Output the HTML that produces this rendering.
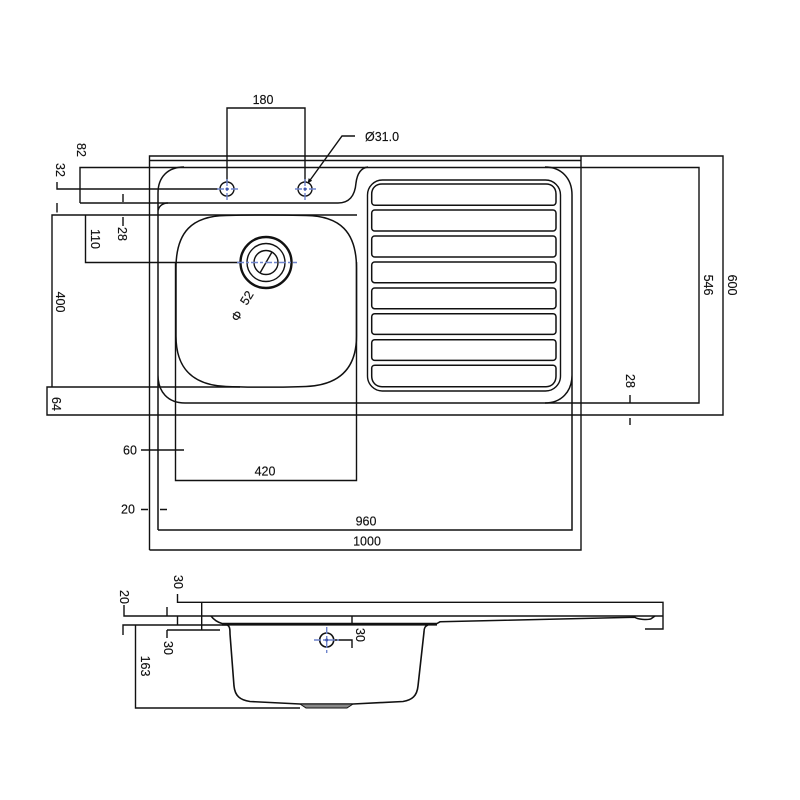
<!DOCTYPE html>
<html><head><meta charset="utf-8"><style>
html,body{margin:0;padding:0;background:#fff;width:800px;height:800px;overflow:hidden}
svg{display:block;filter:blur(.35px)}
text{font-family:"Liberation Sans",sans-serif;font-size:12.5px;fill:#111;stroke:#111;stroke-width:.15;text-anchor:middle;dominant-baseline:central}
</style></head><body>
<svg width="800" height="800" viewBox="0 0 800 800" xmlns="http://www.w3.org/2000/svg">
<rect width="800" height="800" fill="#fff"/>
<g fill="none" stroke="#111" stroke-width="1.4">
<!-- outer -->
<path d="M149.500 550V156H723V415H47V387H240M149.500 550H581V156M149.500 160.500H581"/>
<path d="M80 203V167.500H699V403H545M80 203H338"/>
<!-- outline -->
<path d="M158 530V193C158 177 168 167 184 167M338 203C350 203 355 195 356 183C357 175 360 168 368 167M545 167C561 167 572 178 572 195V530H158M158 212C158 207 162 203 168 203M158 375C158 392 168 403 185 403H545C561 403 572 392 572 375" stroke-width="1.5"/>
<!-- dims left -->
<path d="M57 182V189H218M57 203V212.500M52 387V215H357M85.500 215V262.500H240M123 194V202M123 217V226"/>
<path d="M141 450H184M141 509.500H148M160 509.500H167M175.500 262V480.500H356.500V262M630 395V403M630 418V425"/>
<path d="M227 182V108H305V182M308 183L342 136H355"/>
<path d="M308 183l.8 -4.500 3 2.200z" fill="#111" stroke-width=".5"/>
<!-- bowl -->
<path d="M176 268C176 232 192 216 226 215.500C246 215 286 215 306 215.500C340 216 356.500 232 356.500 268V336C356.500 368 340 385 306 386.500C286 387.400 246 387.400 226 386.500C192 385 176 368 176 336Z" stroke-width="1.5"/>
<!-- holes -->
<circle cx="227" cy="189" r="7" fill="#fff"/>
<circle cx="305" cy="189" r="7" fill="#fff"/>
<!-- drain -->
<circle cx="266" cy="262.500" r="25.500" stroke-width="2.400"/>
<circle cx="266" cy="262.500" r="19"/>
<circle cx="266" cy="262.500" r="12"/>
<path d="M260 273L272 252"/>
<!-- drainer -->
<rect x="367.500" y="180" width="193" height="211" rx="15"/>
<path d="M371.700 194C371.700 188 376 184 382 184H546C552 184 556 188 556 194V202C556 204 554.500 205.300 553 205.300H375C373 205.300 371.700 204 371.700 202Z" stroke-width="1.500"/>
<rect x="371.700" y="210" width="184.300" height="21" rx="3" stroke-width="1.500"/>
<rect x="371.700" y="236" width="184.300" height="21" rx="3" stroke-width="1.500"/>
<rect x="371.700" y="262" width="184.300" height="20.700" rx="3" stroke-width="1.500"/>
<rect x="371.700" y="288" width="184.300" height="20.700" rx="3" stroke-width="1.500"/>
<rect x="371.700" y="313.700" width="184.300" height="20.700" rx="3" stroke-width="1.500"/>
<rect x="371.700" y="339.700" width="184.300" height="20.700" rx="3" stroke-width="1.500"/>
<path d="M375 365.300H553C554.500 365.300 556 366.500 556 368V376C556 382.500 552 386.700 546 386.700H382C376 386.700 371.700 382.500 371.700 376V368C371.700 366.500 373 365.300 375 365.300Z" stroke-width="1.500"/>
<!-- side view -->
<path d="M177.500 594V602.300H663V629H645M124 605V616H663M123 635V625H227M135.500 625V708H300M201.700 602.300V630M167 630H220M167 607V616M167 630V638M177.500 616V625M352 616V623M334 640H352V648"/>
<path d="M211 616C214 620 217 622 222 623.500H437L440 621.800L635 617.300C637 619.500 648 620 651 618.800L655 616" stroke-width="1.500"/>
<path d="M227 625C230 626 230 630 230 634L234 686C235 696 240 700 250 701.500L300 704H353L403 701.500C412 700 417 696 418 686L424 632C424 628 425 626 428 625M222 624.800H437" stroke-width="1.600"/>
<path d="M300 704L306 708H347L353 704Z" fill="#888" stroke-width="1"/>
<circle cx="326.700" cy="640" r="7" fill="#fff" stroke-width="1.600"/>
</g>
<!-- blue centre marks -->
<g stroke="#6f84cc" stroke-width="1.400" fill="none" stroke-dasharray="7 2 3 2">
<path d="M217 189H238M227 179V200M295 189H316M305 179V200M237 262.500H297"/>
<path d="M314 640H339M326.700 627V653"/>
</g>
<g fill="#3f55aa"><circle cx="227" cy="189" r="1.500"/><circle cx="305" cy="189" r="1.500"/><circle cx="326.700" cy="640" r="1.500"/></g>
<!-- labels -->
<text x="263" y="100">180</text>
<text x="382" y="137">Ø31.0</text>
<text x="265" y="471.500">420</text>
<text x="366" y="521.500">960</text>
<text x="367" y="541.500">1000</text>
<text x="130" y="450.500">60</text>
<text x="128" y="509.500">20</text>
<text transform="translate(81,150) rotate(90)">82</text>
<text transform="translate(60,170) rotate(90)">32</text>
<text transform="translate(122,234) rotate(90)">28</text>
<text transform="translate(95,239) rotate(90)">110</text>
<text transform="translate(60,302) rotate(90)">400</text>
<text transform="translate(56,404) rotate(90)">64</text>
<text transform="translate(708,285) rotate(90)">546</text>
<text transform="translate(732,285) rotate(90)">600</text>
<text transform="translate(630,381) rotate(90)">28</text>
<text transform="translate(247,298) rotate(-58)">52</text>
<text transform="translate(237,316) rotate(-58)">Φ</text>
<text transform="translate(178,582) rotate(90)">30</text>
<text transform="translate(124,597) rotate(90)">20</text>
<text transform="translate(168,648) rotate(90)">30</text>
<text transform="translate(145,666) rotate(90)">163</text>
<text transform="translate(360,635) rotate(90)">30</text>
</svg>
</body></html>
